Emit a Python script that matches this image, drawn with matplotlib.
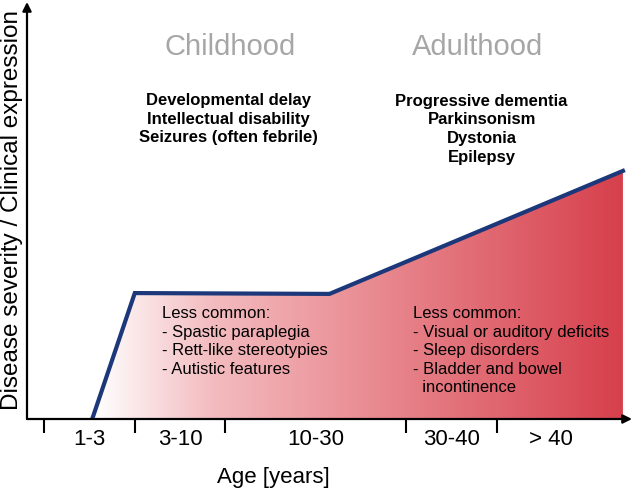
import numpy as np
import matplotlib.pyplot as plt
from matplotlib.colors import LinearSegmentedColormap
from matplotlib.patches import Polygon

plt.rcParams['font.family'] = ['Liberation Sans', 'DejaVu Sans']

# age groups (tick edges and labels)
group_edges = [0, 1, 2, 4, 5]
group_labels = ['1-3', '3-10', '10-30', '30-40', '> 40']
group_label_pos = [0.5, 1.5, 3.0, 4.5, 5.6]

# disease severity curve
age_pts = [0.53, 1.0, 3.15, 6.39]
severity = [0.0, 3.02, 3.0, 5.95]

child_main = ['Developmental delay', 'Intellectual disability', 'Seizures (often febrile)']
adult_main = ['Progressive dementia', 'Parkinsonism', 'Dystonia', 'Epilepsy']
child_less = ['Less common:', '- Spastic paraplegia', '- Rett-like stereotypies', '- Autistic features']
adult_less = ['Less common:', '- Visual or auditory deficits', '- Sleep disorders',
              '- Bladder and bowel', '  incontinence']

fig = plt.figure(figsize=(6.33, 4.9), dpi=100)
ax = fig.add_axes([27 / 633, 71 / 490, 605 / 633, 417 / 490])
xmin, xmax = -0.19, 6.49
ax.set_xlim(xmin, xmax)
ax.set_ylim(0, 10)

# gradient fill clipped to the area under the curve
verts = list(zip(age_pts, severity)) + [(age_pts[-1], 0)]
poly = Polygon(verts, closed=True, facecolor='none', edgecolor='none')
ax.add_patch(poly)
cmap = LinearSegmentedColormap.from_list(
    'wr', [(0, '#ffffff'), (0.22, '#f3bcc0'), (0.55, '#e8878e'), (1, '#d6404c')])
grad = np.linspace(0, 1, 256).reshape(1, -1)
im = ax.imshow(grad, cmap=cmap, aspect='auto',
               extent=[0.55, age_pts[-1], 0, max(severity)], zorder=1)
im.set_clip_path(poly)

ax.plot(age_pts, severity, color='#1c387a', lw=3, solid_joinstyle='miter', zorder=3)

# axes as arrows
for s in ax.spines.values():
    s.set_visible(False)
ax.annotate('', xy=(1, 0), xytext=(0, 0), xycoords='axes fraction',
            arrowprops=dict(arrowstyle='-|>', lw=1.6, color='black', mutation_scale=13,
                            shrinkA=0, shrinkB=0), annotation_clip=False, zorder=4)
ax.annotate('', xy=(0, 1), xytext=(0, 0), xycoords='axes fraction',
            arrowprops=dict(arrowstyle='-|>', lw=1.6, color='black', mutation_scale=13,
                            shrinkA=0, shrinkB=0), annotation_clip=False, zorder=4)

ax.set_yticks([])
ax.set_xticks(group_edges)
ax.set_xticklabels([])
ax.tick_params(axis='x', which='major', direction='out', length=10, width=1.5)
ax.set_xticks(group_label_pos, minor=True)
ax.set_xticklabels(group_labels, minor=True, fontsize=16)
ax.tick_params(axis='x', which='minor', length=0, pad=7)

ax.text(2.05, 8.93, 'Childhood', fontsize=21, color='#a6a6a6', ha='center', va='center')
ax.text(4.78, 8.93, 'Adulthood', fontsize=21, color='#a6a6a6', ha='center', va='center')

ax.text(2.03, 7.19, '\n'.join(child_main), fontsize=12, fontweight='bold',
        ha='center', va='center', multialignment='center', linespacing=1.3)
ax.text(4.83, 6.95, '\n'.join(adult_main), fontsize=12, fontweight='bold',
        ha='center', va='center', multialignment='center', linespacing=1.3)

ax.text(1.30, 1.86, '\n'.join(child_less), fontsize=12, ha='left', va='center',
        linespacing=1.3, zorder=5)
ax.text(4.07, 1.64, '\n'.join(adult_less), fontsize=12, ha='left', va='center',
        linespacing=1.3, zorder=5)

fig.text(12 / 633, 1 - 210 / 490, 'Disease severity / Clinical expression', fontsize=17.5,
         rotation=90, ha='center', va='center')
fig.text(273 / 633, 1 - 477 / 490, 'Age [years]', fontsize=16, ha='center', va='center')

fig.savefig('out.png', dpi=100)
